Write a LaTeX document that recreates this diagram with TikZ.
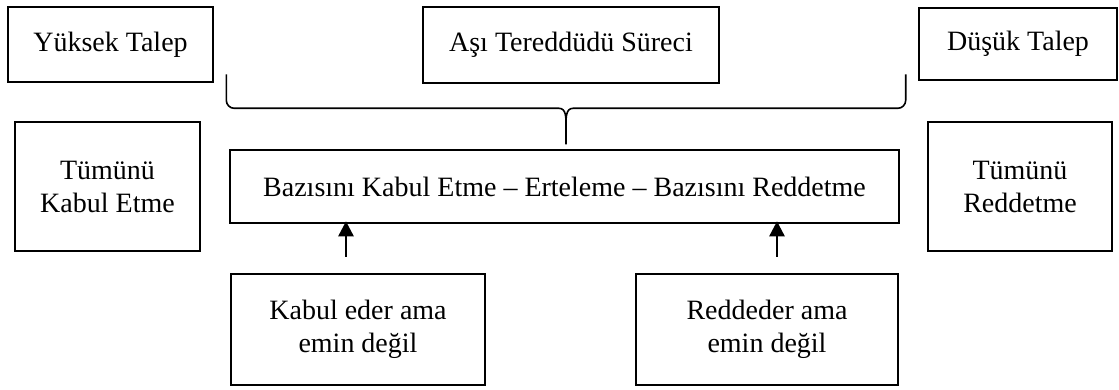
\documentclass[tikz,border=0pt]{standalone}
\usepackage{fontspec}
\setmainfont{Liberation Serif}
\usetikzlibrary{arrows.meta,positioning,calc}
\tikzset{
    box/.style={rectangle, draw, line width=2.6pt, align=center, inner sep=0pt, font=\fontsize{28}{33}\selectfont},
    line/.style={draw, line width=2.6pt, -{Triangle[width=15pt,length=15pt]}},
    bracket/.style={draw, line width=1.6pt}
}
\begin{document}
\begin{tikzpicture}[x=1pt,y=1pt]
    \useasboundingbox (0,0) rectangle (1119,389);

    % Top row
    \node [box, minimum width=205pt, minimum height=75pt] (high) at (110.5,344.5) {Yüksek Talep};
    \node [box, minimum width=296pt, minimum height=76pt] (process) at (571,344) {Aşı Tereddüdü Süreci};
    \node [box, minimum width=198pt, minimum height=72pt] (low) at (1018,345) {Düşük Talep};

    % Middle row
    \node [box, minimum width=185pt, minimum height=129pt] (acceptall) at (107.5,202.5) {Tümünü\\Kabul Etme};
    \node [box, minimum width=669pt, minimum height=73pt] (middle) at (564.5,202.5) {Bazısını Kabul Etme -- Erteleme -- Bazısını Reddetme};
    \node [box, minimum width=184pt, minimum height=129pt] (rejectall) at (1020,202.5) {Tümünü\\Reddetme};

    % Bottom row
    \node [box, minimum width=254pt, minimum height=111pt] (acceptbut) at (358,59.5) {Kabul eder ama\\emin değil};
    \node [box, minimum width=262pt, minimum height=111pt] (rejectbut) at (767,59.5) {Reddeder ama\\emin değil};

    % Brace under the top row
    \coordinate (bl) at ([shift={(12pt,9pt)}]high.south east);
    \coordinate (br) at ([shift={(-12pt,7pt)}]low.south west);
    \coordinate (mid) at ($(bl)!.5!(br)$);
    \coordinate (tip) at ([yshift=-70pt]mid);
    \path [bracket] (bl) -- ([yshift=-26pt]bl) to[out=-90,in=180] ([shift={(8pt,-34pt)}]bl)
        -- ([shift={(-7pt,-34pt)}]mid) to[out=0,in=90] ([yshift=-52pt]mid) -- (tip);
    \path [bracket] (br) -- ([yshift=-26pt]br) to[out=-90,in=0] ([shift={(-8pt,-34pt)}]br)
        -- ([shift={(7pt,-34pt)}]mid) to[out=180,in=90] ([yshift=-52pt]mid);

    % Connections
    \path [line, shorten <=16pt, shorten >=-3pt] ([xshift=-12pt]acceptbut.north) -- ([xshift=-12pt]acceptbut.north |- middle.south);
    \path [line, shorten <=16pt, shorten >=-3pt] ([xshift=10pt]rejectbut.north) -- ([xshift=10pt]rejectbut.north |- middle.south);
\end{tikzpicture}
\end{document}
